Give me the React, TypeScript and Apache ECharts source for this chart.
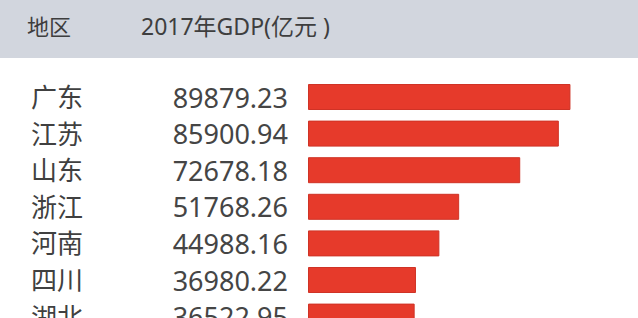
import React, { useEffect, useRef } from "react";
import * as echarts from "echarts";

const regions = ["广东", "江苏", "山东", "浙江", "河南", "四川", "湖北"];
const gdp2017 = [89879.23, 85900.94, 72678.18, 51768.26, 44988.16, 36980.22, 36522.95];
const headerRegion = "地区";
const headerValue = "2017年GDP(亿元 )";

export default function App() {
  const ref = useRef<HTMLDivElement>(null);
  useEffect(() => {
    if (!ref.current) return;
    const chart = echarts.init(ref.current, undefined, { renderer: "svg" });
    const font = '"Noto Sans", "Noto Sans CJK SC", sans-serif';
    chart.setOption({
      animation: false,
      backgroundColor: "#ffffff",
      graphic: [
        { type: "rect", shape: { x: 0, y: 0, width: 638, height: 58 }, style: { fill: "#d2d6de" }, z: 0 },
        {
          type: "text", x: 27, y: 26,
          style: { text: headerRegion, fill: "#3e3e3e", fontSize: 22, fontFamily: font, verticalAlign: "middle", align: "left" },
        },
        {
          type: "text", x: 141, y: 26,
          style: { text: headerValue, fill: "#3e3e3e", fontSize: 23, fontFamily: font, verticalAlign: "middle", align: "left" },
        },
      ],
      grid: { left: 308, top: 78.7, width: 292, height: 256.2, containLabel: false },
      xAxis: { type: "value", min: 0, max: 100000, show: false },
      yAxis: {
        type: "category",
        data: regions,
        inverse: true,
        axisLine: { show: false },
        axisTick: { show: false },
        splitLine: { show: false },
        axisLabel: {
          align: "left",
          margin: 277,
          fontSize: 26,
          color: "#404040",
          fontFamily: font,
        },
      },
      series: [
        {
          type: "bar",
          data: gdp2017,
          barWidth: 26,
          itemStyle: { color: "#e63a2b", borderColor: "#cf3326", borderWidth: 1 },
          label: {
            show: true,
            position: [-20, "50%"],
            align: "right",
            verticalAlign: "middle",
            fontSize: 27,
            color: "#454545",
            fontFamily: font,
            formatter: (p: any) => Number(p.value).toFixed(2),
          },
        },
      ],
    });
    return () => chart.dispose();
  }, []);
  return (
    <div style={{ position: "fixed", left: 0, top: 0, width: 638, height: 318, overflow: "hidden", background: "#fff" }}>
      <div ref={ref} style={{ width: 638, height: 360 }} />
    </div>
  );
}
